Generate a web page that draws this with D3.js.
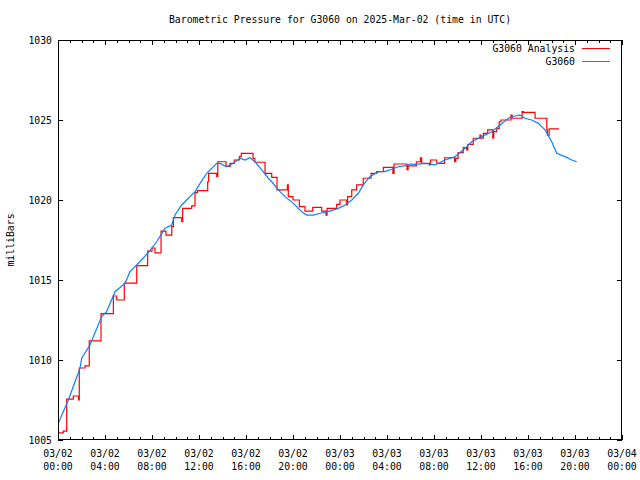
<!DOCTYPE html>
<html><head><meta charset="utf-8">
<script src="https://cdn.jsdelivr.net/npm/d3@7"></script>
<style>
body{margin:0;background:#fff}
svg{display:block}
text{font-family:"DejaVu Sans Mono","Liberation Mono",monospace;font-size:9.8px;fill:#000}
</style>
</head><body><svg id="c" width="640" height="480"></svg>
<script>
// ---- data ----
const titleText = "Barometric Pressure for G3060 on 2025-Mar-02 (time in UTC)";
const yLabelText = "milliBars";
const seriesNames = ["G3060 Analysis", "G3060"];
const seriesColors = ["#ff0000", "#0a80ff"];
const xTickHours = [0,4,8,12,16,20,24,28,32,36,40,44,48];
const xTickDates = ["03/02","03/02","03/02","03/02","03/02","03/02","03/03","03/03","03/03","03/03","03/03","03/03","03/04"];
const xTickTimes = ["00:00","04:00","08:00","12:00","16:00","20:00","00:00","04:00","08:00","12:00","16:00","20:00","00:00"];
const yTicks = [1005,1010,1015,1020,1025,1030];

// Analysis (step series): hours since 03/02 00:00, pressure mb
const redHours = [0,0.45,0.74,1.3,1.75,1.81,2.3,2.66,3.66,4.71,5.0,5.64,6.70,7.63,8.0,8.26,8.77,9.19,9.68,9.82,
  10.53,10.61,11.38,11.66,11.86,12.74,12.82,13.51,13.6,14.3,14.65,15.0,15.44,15.6,16.6,16.75,17.62,18.19,18.64,19.52,
  19.6,20.0,20.54,21.02,21.68,22.44,22.81,22.9,23.72,24.0,24.57,24.65,25.0,25.42,25.98,26.64,27.12,27.69,28.5,28.6,
  29.7,29.8,30.5,30.85,30.95,31.6,31.7,32.23,32.9,33.75,33.85,34.05,34.49,34.78,34.88,35.34,35.91,36.0,36.2,36.57,
  37.0,37.08,37.34,37.55,37.7,38.55,38.65,39.5,39.6,40.6,41.6,41.65,41.8,42.64];
const redPressure = [1005.45,1005.55,1007.55,1007.75,1007.5,1009.5,1009.63,1011.2,1012.9,1014.0,1013.75,1014.8,1015.9,1016.8,1017.0,1016.7,1018.06,1017.81,1018.33,1018.9,
  1018.65,1019.48,1019.63,1020.46,1020.58,1021.14,1021.67,1021.46,1022.39,1022.1,1022.29,1022.5,1022.71,1022.92,1022.6,1022.36,1021.67,1021.42,1020.63,1020.94,
  1020.21,1020.0,1019.58,1019.31,1019.54,1019.31,1019.06,1019.48,1019.73,1020.0,1019.69,1020.21,1020.63,1020.94,1021.36,1021.67,1021.77,1022.04,1021.67,1022.25,
  1021.9,1022.13,1022.39,1022.64,1022.29,1022.2,1022.5,1022.29,1022.64,1022.39,1022.6,1022.96,1023.27,1023.13,1023.48,1023.86,1024.06,1023.86,1024.17,1024.38,
  1023.86,1024.27,1024.48,1024.89,1025.0,1025.31,1025.11,1025.52,1025.48,1025.11,1024.38,1024.06,1024.44,1024.44];

// Station observations
const blueHours = [0.03,0.88,1.87,2.02,2.72,3.72,4.14,4.85,5.70,6.13,6.70,7.63,8.40,9.11,9.68,9.96,10.53,11.23,11.66,12.09,
  12.66,13.08,13.51,13.79,14.36,14.92,15.49,15.91,16.34,16.77,17.34,17.90,18.19,18.75,19.32,20.03,20.74,21.17,21.73,22.30,
  23.00,23.86,24.43,25.0,25.56,25.98,26.55,27.26,27.83,28.40,28.96,29.53,29.96,30.38,31.23,32.09,32.94,33.79,34.64,35.21,
  36.06,36.91,37.62,38.32,38.89,39.32,39.74,40.31,40.88,41.45,42.02,42.44,43.15,43.72,44.14];
const bluePressure = [1006.04,1007.5,1009.48,1010.11,1010.94,1012.71,1013.02,1014.27,1014.79,1015.52,1015.94,1016.67,1017.39,1018.23,1018.44,1019.06,1019.69,1020.21,1020.52,1021.04,
  1021.67,1021.98,1022.29,1022.29,1022.08,1022.29,1022.61,1022.5,1022.64,1022.39,1021.88,1021.36,1021.14,1020.63,1020.21,1019.79,1019.27,1019.06,1019.06,1019.17,
  1019.27,1019.48,1019.69,1020.0,1020.42,1020.94,1021.46,1021.77,1021.77,1021.92,1022.08,1022.13,1022.25,1022.23,1022.29,1022.19,1022.5,1022.71,1023.23,1023.64,
  1023.96,1024.27,1024.69,1025.11,1025.25,1025.31,1025.11,1025.0,1024.79,1024.38,1023.64,1022.92,1022.71,1022.5,1022.39];

// ---- chart ----
const svg = d3.select("#c");
const L = 58, R = 622, T = 40, B = 440;
const x = d3.scaleLinear().domain([0,48]).range([L,R]);
const y = d3.scaleLinear().domain([1005,1030]).range([B,T]);

svg.append("rect").attr("width",640).attr("height",480).attr("fill","#fff");

const hourly = d3.range(0,49);
const minorHours = hourly.filter(h => h % 4 !== 0);

function styleAxis(g){
  g.select(".domain").remove();
  g.selectAll("line").attr("stroke","#000").attr("shape-rendering","crispEdges");
  g.selectAll("text").remove();
}
// bottom major/minor
svg.append("g").attr("transform",`translate(0,${B})`)
  .call(d3.axisBottom(x).tickValues(xTickHours).tickSizeInner(-5).tickSizeOuter(0)).call(styleAxis);
svg.append("g").attr("transform",`translate(0,${B})`)
  .call(d3.axisBottom(x).tickValues(minorHours).tickSizeInner(-3).tickSizeOuter(0)).call(styleAxis);
// top mirror
svg.append("g").attr("transform",`translate(0,${T})`)
  .call(d3.axisTop(x).tickValues(xTickHours).tickSizeInner(-5).tickSizeOuter(0)).call(styleAxis);
svg.append("g").attr("transform",`translate(0,${T})`)
  .call(d3.axisTop(x).tickValues(minorHours).tickSizeInner(-3).tickSizeOuter(0)).call(styleAxis);
// left / right
svg.append("g").attr("transform",`translate(${L},0)`)
  .call(d3.axisLeft(y).tickValues(yTicks).tickSizeInner(-5).tickSizeOuter(0)).call(styleAxis);
svg.append("g").attr("transform",`translate(${R},0)`)
  .call(d3.axisRight(y).tickValues(yTicks).tickSizeInner(-5).tickSizeOuter(0)).call(styleAxis);

// tick labels
svg.append("g").selectAll("text").data(yTicks).join("text")
  .attr("x", L-6).attr("y", d => y(d)+3.5).attr("text-anchor","end").text(d => d);
const xl = svg.append("g").selectAll("g").data(xTickHours).join("g");
xl.append("text").attr("x", d => x(d)).attr("y", B+17).attr("text-anchor","middle").text((d,i)=>xTickDates[i]);
xl.append("text").attr("x", d => x(d)).attr("y", B+30).attr("text-anchor","middle").text((d,i)=>xTickTimes[i]);

// title & y label
svg.append("text").attr("x",(L+R)/2).attr("y",23).attr("text-anchor","middle").text(titleText);
svg.append("text").attr("transform","translate(14,240) rotate(-90)").attr("text-anchor","middle").text(yLabelText);

// series
const redData = redHours.map((h,i)=>[h, redPressure[i]]);
const blueData = blueHours.map((h,i)=>[h, bluePressure[i]]);
svg.append("clipPath").attr("id","pc").append("rect").attr("x",L).attr("y",T).attr("width",R-L).attr("height",B-T);
const plot = svg.append("g").attr("clip-path","url(#pc)");
plot.append("path").datum(redData)
  .attr("d", d3.line().x(d=>x(d[0])).y(d=>y(d[1])).curve(d3.curveStepAfter))
  .attr("fill","none").attr("stroke",seriesColors[0]).attr("stroke-width",1.2);
plot.append("path").datum(blueData)
  .attr("d", d3.line().x(d=>x(d[0])).y(d=>y(d[1])))
  .attr("fill","none").attr("stroke",seriesColors[1]).attr("stroke-width",1.2);

// border
svg.append("rect").attr("x",L+0.5).attr("y",T+0.5).attr("width",R-L-1).attr("height",B-T-1)
  .attr("fill","none").attr("stroke","#000").attr("stroke-width",1).attr("shape-rendering","crispEdges");

// legend
const leg = svg.append("g").selectAll("g").data(seriesNames).join("g");
leg.append("text").attr("x",575).attr("y",(d,i)=>52+i*13).attr("text-anchor","end").text(d=>d);
leg.append("line").attr("x1",582).attr("x2",610).attr("y1",(d,i)=>48.5+i*13).attr("y2",(d,i)=>48.5+i*13)
  .attr("stroke",(d,i)=>seriesColors[i]).attr("stroke-width",1).attr("shape-rendering","crispEdges");
</script>
</body></html>
